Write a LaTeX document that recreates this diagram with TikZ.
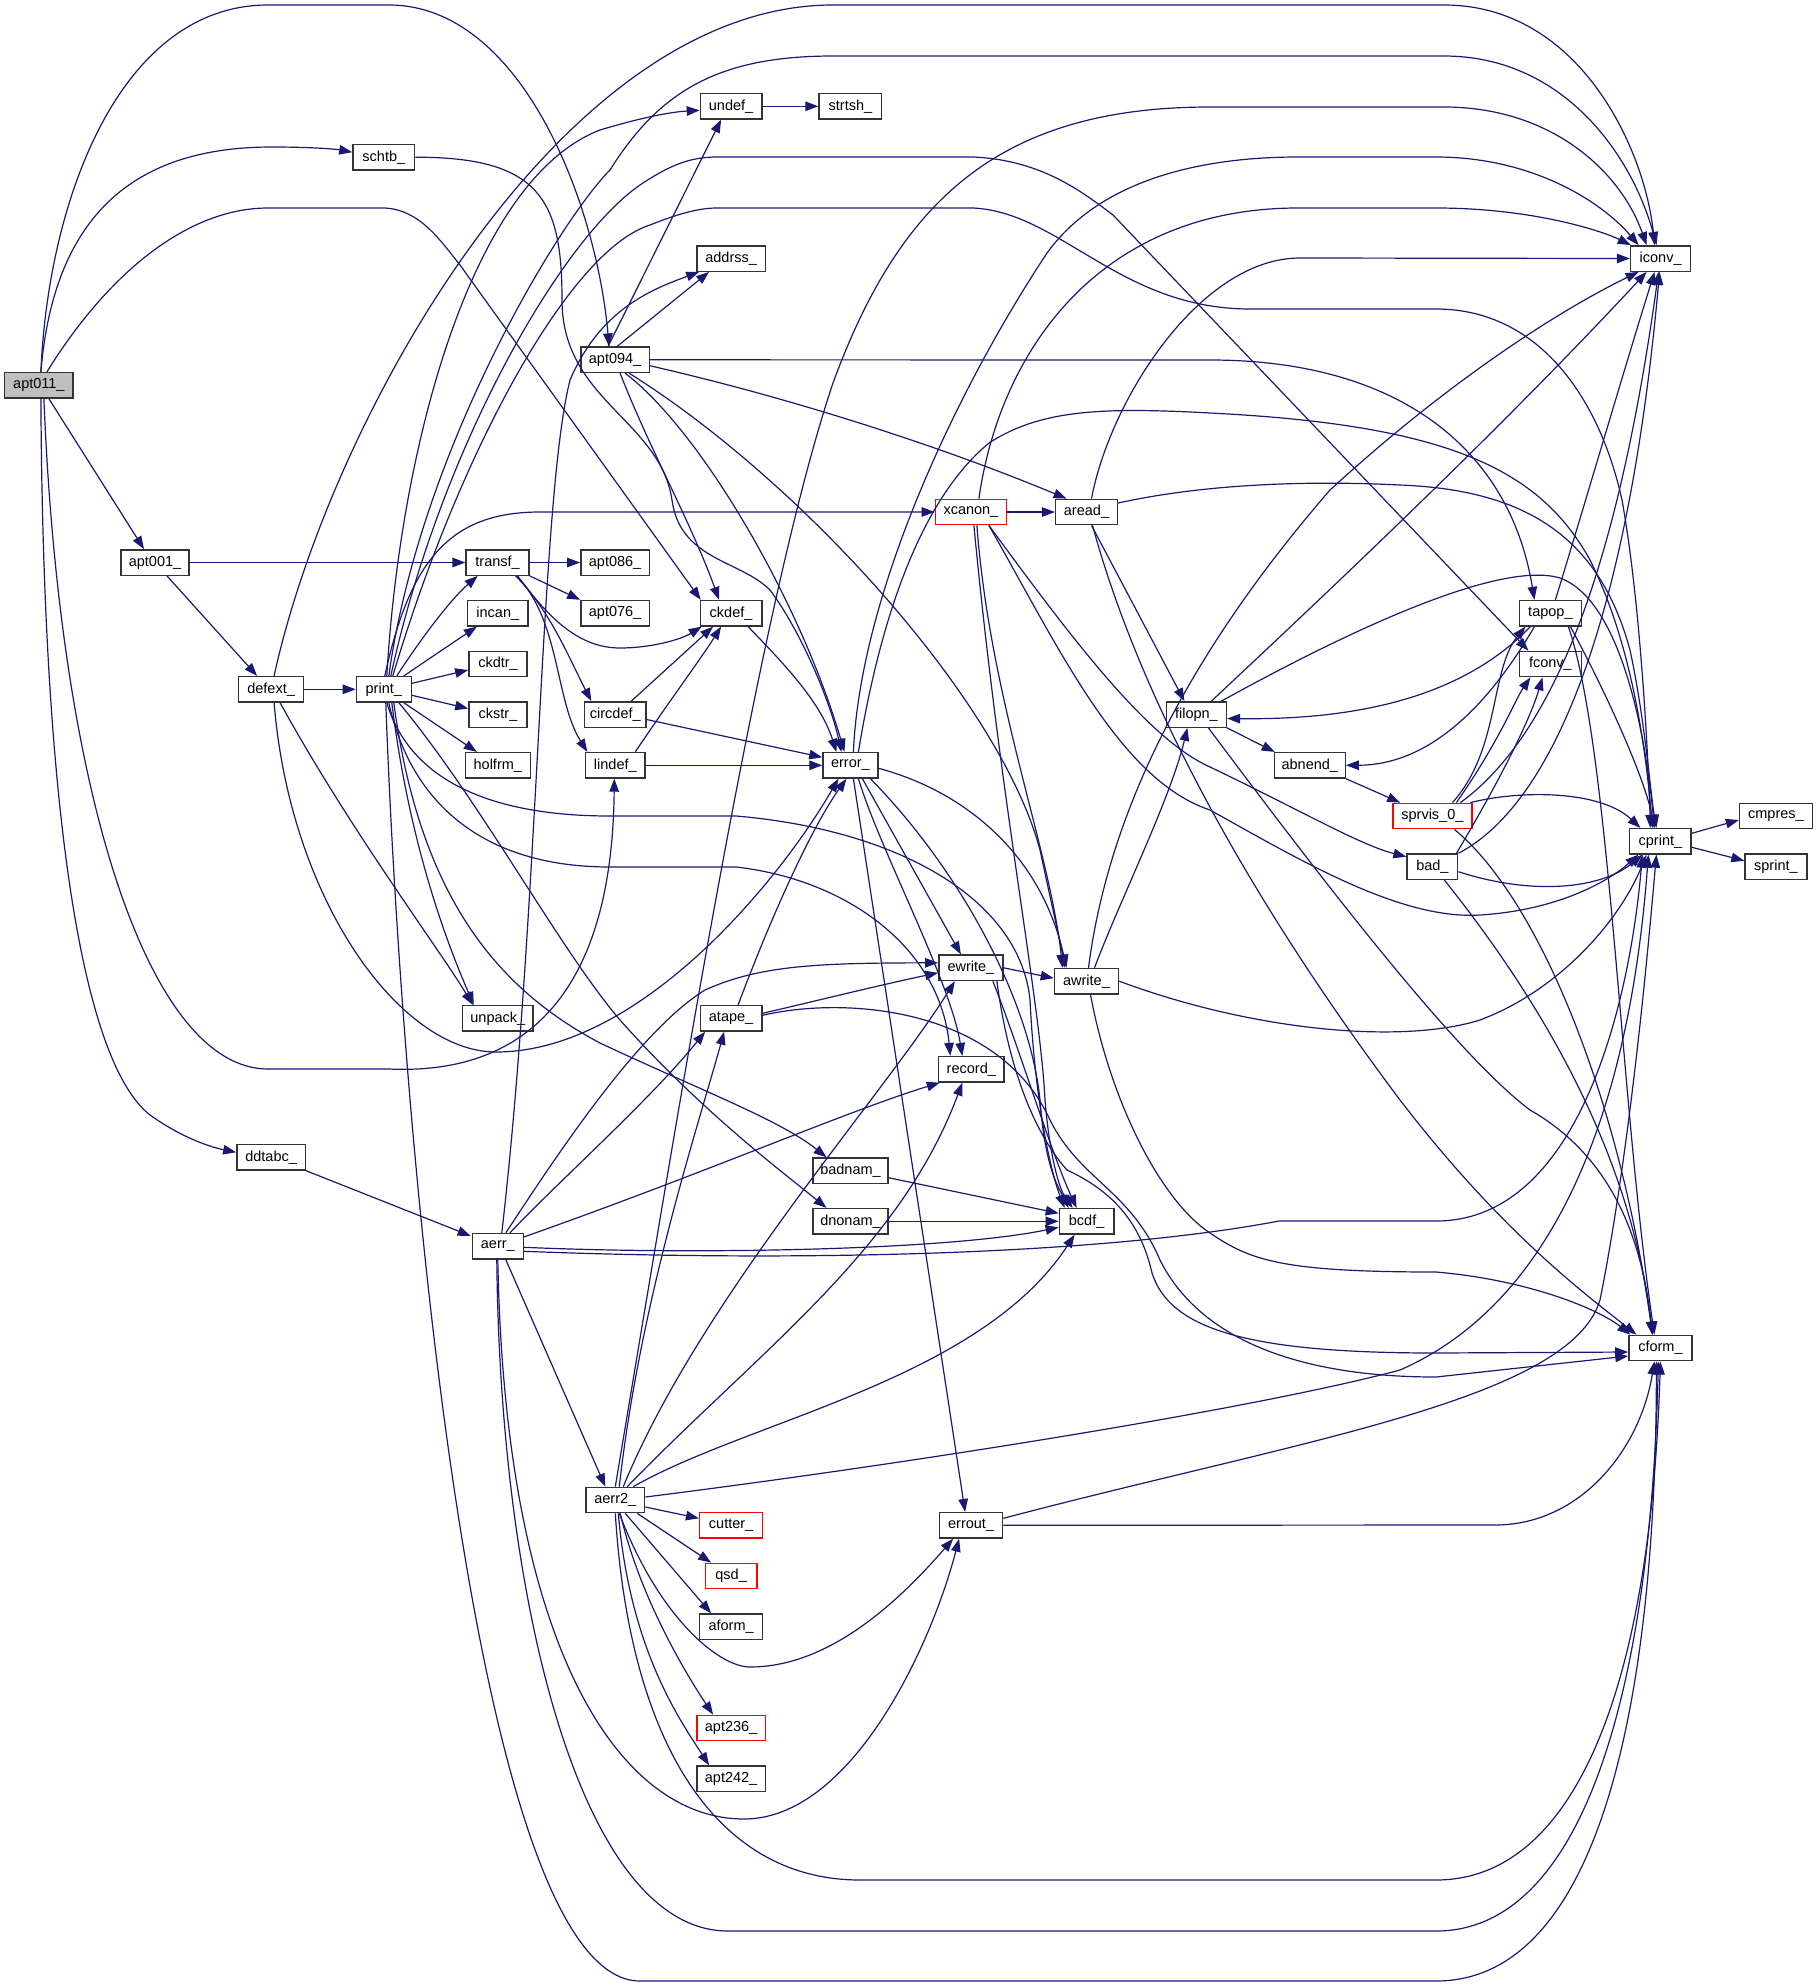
\documentclass[tikz,border=0pt]{standalone}
\usepackage{fontspec}
\setmainfont{Liberation Sans}
\usetikzlibrary{arrows.meta}
\definecolor{edgec}{RGB}{25,25,112}
\definecolor{grayfill}{RGB}{191,191,191}
\begin{document}
\begin{tikzpicture}[x=1pt,y=-1pt]
\tikzset{
 nd/.style={draw=black!80, line width=1.4pt, fill=white, minimum height=25.4pt, inner sep=0pt, font=\fontsize{14.5}{16}\selectfont, anchor=center},
 rd/.style={nd, draw=red},
 gd/.style={nd, fill=grayfill},
 ed/.style={draw=edgec, line width=1.2pt, -{Triangle[length=13pt,width=9.5pt]}}
}
\useasboundingbox (0,0) rectangle (1817,1987);
% nodes
\node[gd, minimum width=68.4pt] (apt011) at (38.9,385.3) {apt011\_};
\node[nd, minimum width=61.8pt] (schtb) at (383.8,157.2) {schtb\_};
\node[nd, minimum width=68.6pt] (apt094) at (615.1,359.8) {apt094\_};
\node[nd, minimum width=61.4pt] (undef) at (731.1,106.3) {undef\_};
\node[nd, minimum width=62.7pt] (strtsh) at (850.4,106.3) {strtsh\_};
\node[nd, minimum width=68.4pt] (addrss) at (731.1,258.5) {addrss\_};
\node[nd, minimum width=60.2pt] (iconv) at (1660.6,258.5) {iconv\_};
\node[nd, minimum width=68pt] (apt001) at (155,562.5) {apt001\_};
\node[nd, minimum width=63pt] (transf) at (497.6,562.5) {transf\_};
\node[nd, minimum width=60.3pt] (incan) at (497.8,613.2) {incan\_};
\node[nd, minimum width=58.3pt] (ckdtr) at (498,664) {ckdtr\_};
\node[nd, minimum width=58.3pt] (ckstr) at (498,714.5) {ckstr\_};
\node[nd, minimum width=65pt] (holfrm) at (497.8,765.3) {holfrm\_};
\node[nd, minimum width=65.3pt] (defext) at (271.1,689.3) {defext\_};
\node[nd, minimum width=54.8pt] (print) at (383.8,689.3) {print\_};
\node[nd, minimum width=68.6pt] (apt086) at (615.1,562.5) {apt086\_};
\node[nd, minimum width=68.6pt] (apt076) at (615.1,613.2) {apt076\_};
\node[nd, minimum width=61.4pt] (ckdef) at (731.1,613.2) {ckdef\_};
\node[nd, minimum width=61.2pt] (circdef) at (615.3,714.5) {circdef\_};
\node[nd, minimum width=59.6pt] (lindef) at (615.3,765.3) {lindef\_};
\node[nd, minimum width=54.9pt] (error) at (850.4,765.3) {error\_};
\node[rd, minimum width=71.2pt] (xcanon) at (970.9,512) {xcanon\_};
\node[nd, minimum width=61.8pt] (aread) at (1086.5,512) {aread\_};
\node[nd, minimum width=60pt] (filopn) at (1196.4,714.5) {filopn\_};
\node[nd, minimum width=64.2pt] (ewrite) at (970.9,967.8) {ewrite\_};
\node[nd, minimum width=64.2pt] (awrite) at (1086.5,981.2) {awrite\_};
\node[nd, minimum width=61.8pt] (tapop) at (1550.4,613.2) {tapop\_};
\node[nd, minimum width=61.8pt] (fconv) at (1550.4,664) {fconv\_};
\node[nd, minimum width=70.8pt] (abnend) at (1309.8,765.3) {abnend\_};
\node[rd, minimum width=79.1pt] (sprvis) at (1432.4,816) {sprvis\_0\_};
\node[nd, minimum width=50.7pt] (bad) at (1432.4,866.7) {bad\_};
\node[nd, minimum width=61.4pt] (cprint) at (1660.4,841.3) {cprint\_};
\node[nd, minimum width=72.8pt] (cmpres) at (1775.9,816) {cmpres\_};
\node[nd, minimum width=61.8pt] (sprint) at (1775.9,866.7) {sprint\_};
\node[nd, minimum width=70.4pt] (unpack) at (497.8,1018.3) {unpack\_};
\node[nd, minimum width=68.5pt] (ddtabc) at (271.1,1157.3) {ddtabc\_};
\node[nd, minimum width=50.9pt] (aerr) at (497.8,1246.3) {aerr\_};
\node[nd, minimum width=61.4pt] (atape) at (731.1,1018.3) {atape\_};
\node[nd, minimum width=65.7pt] (record) at (971.3,1069.3) {record\_};
\node[nd, minimum width=74.7pt] (badnam) at (850.5,1170.7) {badnam\_};
\node[nd, minimum width=74.7pt] (dnonam) at (850.5,1221.3) {dnonam\_};
\node[nd, minimum width=54.5pt] (bcdf) at (1086.6,1221.3) {bcdf\_};
\node[nd, minimum width=58.8pt] (aerr2) at (615.3,1500) {aerr2\_};
\node[nd, minimum width=63pt] (cform) at (1660.4,1348) {cform\_};
\node[rd, minimum width=63pt] (cutter) at (731.1,1525.3) {cutter\_};
\node[rd, minimum width=51.4pt] (qsd) at (731.1,1576) {qsd\_};
\node[nd, minimum width=63pt] (aform) at (731.1,1626.7) {aform\_};
\node[rd, minimum width=68.4pt] (apt236) at (731.1,1728) {apt236\_};
\node[nd, minimum width=68.4pt] (apt242) at (731.1,1778.7) {apt242\_};
\node[nd, minimum width=63pt] (errout) at (971.1,1525.3) {errout\_};
% apt011
\draw[ed] ([xshift=2]apt011.north) .. controls (48,200) and (120,5) .. (268,5) -- (389,5) .. controls (520,5) and (596,200) .. ([xshift=-6]apt094.north);
\draw[ed] ([xshift=2]apt011.north) .. controls (55,200) and (150,147) .. (272,147) .. controls (310,147) and (335,149) .. ([yshift=5]schtb.west);
\draw[ed] ([xshift=8]apt011.north) .. controls (110,270) and (190,208) .. (268,208) -- (385,208) .. controls (420,210) and (440,240) .. (460,265) -- ([xshift=1]ckdef.north west);
\draw[ed] ([xshift=10]apt011.south) -- ([xshift=-11]apt001.north);
\draw[ed] ([xshift=2]apt011.south) .. controls (43,800) and (80,1060) .. (150,1115) .. controls (185,1140) and (215,1148) .. ([yshift=5]ddtabc.west);
\draw[ed] ([xshift=5]apt011.south) .. controls (60,800) and (150,1069) .. (268,1069) -- (389,1069) .. controls (520,1075) and (612,1000) .. ([xshift=-1]lindef.south);
% schtb
\draw[ed] (schtb.east) .. controls (540,157) and (562,200) .. (562,300) .. controls (562,400) and (660,420) .. (672,500) .. controls (680,560) and (740,560) .. (770,590) .. controls (800,630) and (830,700) .. ([xshift=-9]error.north);
% apt001
\draw[ed] (apt001.east) -- (transf.west);
\draw[ed] ([xshift=12]apt001.south) -- ([xshift=-14]defext.north);
% defext
\draw[ed] (defext.east) -- (print.west);
\draw[ed] ([xshift=3]defext.north) .. controls (330,420) and (560,5) .. (833,5) -- (1444,5) .. controls (1580,5) and (1645,150) .. ([xshift=-6]iconv.north);
\draw[ed] ([xshift=9]defext.south) .. controls (350,830) and (440,950) .. ([xshift=-25]unpack.north);
\draw[ed] ([xshift=3]defext.south) .. controls (290,900) and (400,1052) .. (496,1052) .. controls (640,1052) and (780,880) .. ([xshift=-12]error.south);
% print
\draw[ed] ([xshift=13]print.north) .. controls (420,640) and (450,600) .. ([xshift=-20]transf.south);
\draw[ed] ([xshift=20]print.north) -- ([xshift=-21]incan.south);
\draw[ed] ([yshift=6]print.east) -- ([yshift=-6]ckdtr.west);
\draw[ed] ([yshift=-6]print.east) -- ([yshift=6]ckstr.west);
\draw[ed] ([xshift=20]print.south) -- ([xshift=-21]holfrm.north);
\draw[ed] ([xshift=8]print.south) .. controls (410,850) and (450,950) .. ([xshift=-24]unpack.north);
\draw[ed] ([xshift=1]print.north) .. controls (410,560) and (450,512) .. (540,512) -- (xcanon.west);
\draw[ed] ([xshift=3]print.north) .. controls (400,450) and (470,180) .. (600,130) .. controls (640,118) and (670,112) .. ([yshift=-4]undef.west);
\draw[ed] ([xshift=5]print.north) .. controls (420,450) and (560,220) .. (610,170) .. controls (660,90) and (720,56) .. (833,56) -- (1444,56) .. controls (1560,56) and (1630,150) .. ([xshift=-4]iconv.north);
\draw[ed] ([xshift=7]print.north) .. controls (440,450) and (560,240) .. (640,185) .. controls (670,165) and (690,157) .. (717,157) -- (973,157) .. controls (1040,160) and (1080,190) .. (1113,215) -- ([xshift=-22]fconv.north);
\draw[ed] ([xshift=9]print.north) .. controls (460,450) and (570,250) .. (650,225) .. controls (680,213) and (700,208) .. (717,208) -- (973,208) .. controls (1060,212) and (1120,309) .. (1250,309) -- (1436,309) .. controls (1540,309) and (1600,400) .. (1622,500) .. controls (1640,600) and (1648,750) .. ([xshift=-10]cprint.north);
\draw[ed] ([xshift=5]print.south) .. controls (410,800) and (480,867) .. (610,867) -- (736,867) .. controls (850,880) and (940,950) .. ([xshift=-21]record.north);
\draw[ed] ([xshift=3]print.south) .. controls (410,780) and (490,816) .. (610,816) -- (736,816) .. controls (900,830) and (1020,900) .. (1030,1000) .. controls (1035,1100) and (1050,1170) .. ([xshift=-22]bcdf.north);
\draw[ed] ([xshift=10]print.south) .. controls (420,900) and (500,990) .. (600,1043) .. controls (700,1090) and (780,1120) .. ([xshift=-24]badnam.north);
\draw[ed] ([xshift=15]print.south) .. controls (480,800) and (560,950) .. (620,1020) .. controls (700,1110) and (780,1170) .. ([xshift=-24]dnonam.north);
\draw[ed] ([xshift=2]print.south) .. controls (400,1100) and (470,1981) .. (640,1981) -- (1436,1981) .. controls (1600,1981) and (1656,1700) .. ([xshift=-4]cform.south);
% apt094
\draw[ed] ([xshift=-7]apt094.north) -- ([xshift=-10]undef.south);
\draw[ed] ([xshift=2]apt094.north) -- ([xshift=-22]addrss.south);
\draw[ed] ([xshift=5]apt094.south) .. controls (650,450) and (690,520) .. ([xshift=-12]ckdef.north);
\draw[ed] ([xshift=10]apt094.south) .. controls (700,430) and (800,600) .. ([xshift=-6]error.north);
\draw[ed] ([xshift=14]apt094.south) .. controls (800,480) and (1000,700) .. (1040,850) .. controls (1055,920) and (1062,950) .. ([xshift=-22]awrite.north);
\draw[ed] ([yshift=-6]apt094.east) .. controls (800,400) and (950,450) .. ([xshift=-20]aread.north);
\draw[ed] (apt094.east) -- (1210,360) .. controls (1400,360) and (1510,450) .. ([xshift=-16]tapop.north);
\draw[ed] (undef.east) -- (strtsh.west);
% transf
\draw[ed] (transf.east) -- (apt086.west);
\draw[ed] (transf.south east) -- (apt076.north west);
\draw[ed] ([xshift=20]transf.south) .. controls (550,620) and (580,648) .. (620,648) .. controls (650,648) and (680,640) .. ([xshift=2]ckdef.south west);
\draw[ed] ([xshift=18]transf.south) .. controls (550,610) and (570,660) .. ([xshift=-24]circdef.north);
\draw[ed] ([xshift=19]transf.south) .. controls (560,620) and (555,700) .. ([xshift=-28]lindef.north);
% circdef lindef ckdef
\draw[ed] ([xshift=16]circdef.north) -- ([xshift=-18]ckdef.south);
\draw[ed] ([yshift=-5]circdef.east) -- ([yshift=8]error.west);
\draw[ed] ([xshift=20]lindef.north) .. controls (670,700) and (700,660) .. ([xshift=-10]ckdef.south);
\draw[ed] (lindef.east) -- (error.west);
\draw[ed] ([xshift=17]ckdef.south) .. controls (780,660) and (820,700) .. ([xshift=-14]error.north);
% error
\draw[ed] ([xshift=3]error.north) .. controls (860,600) and (950,400) .. (1047,253) .. controls (1100,180) and (1200,157) .. (1298,157) -- (1436,157) .. controls (1530,157) and (1600,200) .. ([xshift=-22]iconv.north);
\draw[ed] ([xshift=8]error.north) .. controls (880,620) and (920,500) .. (989,443) .. controls (1040,410) and (1100,407) .. (1210,413) .. controls (1450,425) and (1540,470) .. (1590,560) .. controls (1630,640) and (1645,740) .. ([xshift=-8]cprint.north);
\draw[ed] ([xshift=12]error.south) -- ([xshift=-10]ewrite.north);
\draw[ed] ([xshift=8]error.south) .. controls (880,850) and (950,980) .. ([xshift=-9]record.north);
\draw[ed] ([xshift=3]error.south) -- ([xshift=-6]errout.north);
\draw[ed] ([yshift=-3]error.east) .. controls (960,790) and (1040,850) .. ([xshift=-20]awrite.north);
\draw[ed] ([xshift=20]error.south) .. controls (960,870) and (1030,1000) .. (1040,1100) .. controls (1045,1170) and (1060,1190) .. ([xshift=-18]bcdf.north);
% xcanon
\draw[ed] (xcanon.east) -- (aread.west);
\draw[ed] ([xshift=8]xcanon.north) .. controls (1000,350) and (1100,208) .. (1298,208) -- (1436,208) .. controls (1530,208) and (1600,230) .. ([xshift=1]iconv.north west);
\draw[ed] ([xshift=6]xcanon.south) .. controls (990,700) and (1050,850) .. ([xshift=-24]awrite.north);
\draw[ed] ([xshift=3]xcanon.south) .. controls (1000,800) and (1040,1000) .. (1045,1100) .. controls (1050,1160) and (1060,1190) .. ([xshift=-14]bcdf.north);
\draw[ed] ([xshift=18]xcanon.south) .. controls (1080,650) and (1150,740) .. (1210,767) .. controls (1300,810) and (1360,845) .. ([yshift=10]bad.west);
\draw[ed] ([xshift=18]xcanon.south) .. controls (1060,650) and (1120,780) .. (1210,810) .. controls (1300,860) and (1400,920) .. (1480,915) .. controls (1560,910) and (1610,880) .. ([xshift=-22]cprint.south);
% aread
\draw[ed] ([xshift=5]aread.north) .. controls (1110,400) and (1200,258) .. (1300,258) -- (iconv.west);
\draw[ed] ([yshift=9]aread.east) .. controls (1200,485) and (1300,480) .. (1400,485) .. controls (1530,490) and (1600,540) .. (1630,650) .. controls (1645,720) and (1650,790) .. ([xshift=-4]cprint.north);
\draw[ed] ([xshift=5]aread.south) -- ([xshift=-12]filopn.north);
\draw[ed] ([xshift=6]aread.south) .. controls (1140,700) and (1250,900) .. (1400,1100) .. controls (1500,1230) and (1580,1290) .. ([xshift=-24]cform.north);
% filopn
\draw[ed] ([xshift=15]filopn.north) .. controls (1330,590) and (1500,430) .. ([xshift=-14]iconv.south);
\draw[ed] ([xshift=25]filopn.north) .. controls (1350,630) and (1500,560) .. (1560,578) .. controls (1620,600) and (1645,730) .. ([xshift=-6]cprint.north);
\draw[ed] (filopn.south east) -- ([xshift=1]abnend.north west);
\draw[ed] ([xshift=12]filopn.south) .. controls (1300,850) and (1450,1050) .. (1530,1110) .. controls (1600,1150) and (1640,1220) .. ([xshift=-8]cform.north);
% tapop
\draw[ed] ([xshift=5]tapop.north) .. controls (1580,520) and (1630,350) .. ([xshift=-6]iconv.south);
\draw[ed] ([xshift=-20]tapop.south) .. controls (1460,700) and (1350,720) .. ([yshift=-4]filopn.east);
\draw[ed] ([xshift=-16]tapop.south) .. controls (1480,720) and (1420,765) .. (abnend.east);
\draw[ed] ([xshift=20]tapop.south) .. controls (1610,700) and (1645,780) .. ([xshift=-6]cprint.north);
\draw[ed] ([xshift=18]tapop.south) .. controls (1610,750) and (1620,1100) .. ([xshift=-6]cform.north);
% sprvis
\draw[ed] ([xshift=20]sprvis.north) .. controls (1500,750) and (1490,670) .. ([xshift=-25]tapop.south);
\draw[ed] ([xshift=24]sprvis.north) .. controls (1500,740) and (1515,700) .. ([xshift=-20]fconv.south);
\draw[ed] ([xshift=28]sprvis.north) .. controls (1560,730) and (1620,550) .. ([xshift=-2]iconv.south);
\draw[ed] ([xshift=38]sprvis.north) .. controls (1520,790) and (1600,790) .. ([xshift=-20]cprint.north);
\draw[ed] ([xshift=22]sprvis.south) .. controls (1540,900) and (1620,1100) .. ([xshift=-8]cform.north);
% bad
\draw[ed] ([xshift=24]bad.north) .. controls (1500,780) and (1530,720) .. ([xshift=-8]fconv.south);
\draw[ed] (bad.north east) .. controls (1560,800) and (1630,600) .. ([xshift=-1]iconv.south);
\draw[ed] ([yshift=-5]bad.east) .. controls (1530,895) and (1600,890) .. ([xshift=-18]cprint.south);
\draw[ed] ([xshift=12]bad.south) .. controls (1540,1000) and (1630,1150) .. ([xshift=-8]cform.north);
% abnend cprint
\draw[ed] (abnend.south east) -- ([xshift=8]sprvis.north west);
\draw[ed] ([yshift=8]cprint.east) -- ([yshift=-4]cmpres.west);
\draw[ed] ([yshift=-6]cprint.east) -- ([yshift=6]sprint.west);
% awrite
\draw[ed] ([xshift=2]awrite.north) .. controls (1110,800) and (1200,640) .. (1330,490) .. controls (1450,380) and (1560,310) .. ([xshift=-22]iconv.south);
\draw[ed] ([xshift=8]awrite.north) .. controls (1120,900) and (1170,800) .. ([xshift=-9]filopn.south);
\draw[ed] (awrite.east) .. controls (1250,1030) and (1400,1045) .. (1480,1020) .. controls (1560,990) and (1620,920) .. ([xshift=-14]cprint.south);
\draw[ed] ([xshift=4]awrite.south) .. controls (1110,1100) and (1160,1200) .. (1210,1233) .. controls (1250,1260) and (1280,1272) .. (1436,1272) .. controls (1530,1280) and (1600,1310) .. ([xshift=2]cform.north west);
% ewrite
\draw[ed] (ewrite.east) -- ([yshift=3]awrite.west);
\draw[ed] ([xshift=22]ewrite.south) .. controls (1020,1050) and (1050,1150) .. ([xshift=-10]bcdf.north);
\draw[ed] ([xshift=26]ewrite.south) .. controls (1010,1080) and (1040,1140) .. (1067,1170) .. controls (1110,1190) and (1140,1220) .. (1152,1273) .. controls (1170,1330) and (1250,1353) .. (1436,1353) -- ([yshift=-4]cform.west);
% atape
\draw[ed] ([xshift=7]atape.north) .. controls (770,920) and (810,830) .. ([xshift=-4]error.south);
\draw[ed] ([yshift=5]atape.east) .. controls (820,1000) and (880,985) .. ([yshift=-5]ewrite.west);
\draw[ed] ([yshift=3]atape.east) .. controls (850,995) and (1000,1010) .. (1050,1120) .. controls (1080,1180) and (1130,1190) .. (1160,1260) .. controls (1200,1340) and (1300,1377) .. (1436,1377) -- ([yshift=-8]cform.west);
% badnam dnonam ddtabc
\draw[ed] ([yshift=-7]badnam.east) -- ([yshift=8]bcdf.west);
\draw[ed] (dnonam.east) -- (bcdf.west);
\draw[ed] (ddtabc.south east) -- ([xshift=-1,yshift=-3]aerr.north west);
% aerr
\draw[ed] ([xshift=4]aerr.north) .. controls (540,900) and (540,500) .. (570,380) .. controls (600,310) and (650,290) .. ([xshift=3]addrss.south west);
\draw[ed] ([xshift=8]aerr.north) .. controls (560,1150) and (640,1030) .. (705,990) .. controls (760,965) and (820,963) .. ([yshift=5]ewrite.west);
\draw[ed] ([xshift=12]aerr.north) .. controls (560,1180) and (650,1100) .. ([xshift=-26]atape.south);
\draw[ed] ([yshift=-4]aerr.north east) .. controls (700,1175) and (850,1110) .. ([xshift=2]record.south west);
\draw[ed] ([yshift=-1]aerr.east) .. controls (700,1255) and (950,1250) .. ([yshift=-6]bcdf.west);
\draw[ed] ([yshift=-5]aerr.east) .. controls (800,1262) and (1100,1255) .. (1279,1221) -- (1436,1221) .. controls (1580,1221) and (1630,1000) .. ([xshift=-18]cprint.south);
\draw[ed] ([xshift=8]aerr.south) -- ([xshift=-10]aerr2.north);
\draw[ed] (aerr.south) .. controls (505,1650) and (620,1819) .. (744,1819) .. controls (850,1819) and (930,1650) .. ([xshift=-12]errout.south);
\draw[ed] ([xshift=-1]aerr.south) .. controls (500,1600) and (580,1931) .. (728,1931) -- (1436,1931) .. controls (1580,1931) and (1650,1700) .. ([xshift=-2]cform.south);
% aerr2
\draw[ed] (aerr2.north) .. controls (680,1100) and (760,600) .. (833,383) .. controls (900,200) and (1000,107) .. (1210,107) -- (1444,107) .. controls (1550,107) and (1620,170) .. ([xshift=-14]iconv.north);
\draw[ed] ([xshift=4]aerr2.north) .. controls (640,1300) and (700,1120) .. ([xshift=-7]atape.south);
\draw[ed] ([xshift=8]aerr2.north) .. controls (700,1300) and (880,1100) .. ([xshift=-16]ewrite.south);
\draw[ed] ([xshift=12]aerr2.north) .. controls (760,1350) and (900,1250) .. ([xshift=-9]record.south);
\draw[ed] ([xshift=18]aerr2.north) .. controls (750,1420) and (980,1380) .. ([xshift=-12]bcdf.south);
\draw[ed] ([yshift=3]aerr2.east) .. controls (900,1465) and (1250,1410) .. (1400,1370) .. controls (1560,1300) and (1630,1100) .. ([xshift=-12]cprint.south);
\draw[ed] ([yshift=-7]aerr2.east) -- ([yshift=7]cutter.west);
\draw[ed] ([xshift=22]aerr2.south) -- ([xshift=-20]qsd.north);
\draw[ed] ([xshift=10]aerr2.south) -- ([xshift=-20]aform.north);
\draw[ed] ([xshift=5]aerr2.south) .. controls (640,1600) and (690,1680) .. ([xshift=-18]apt236.north);
\draw[ed] ([xshift=3]aerr2.south) .. controls (630,1650) and (680,1720) .. ([xshift=-22]apt242.north);
\draw[ed] ([xshift=4]aerr2.south) .. controls (660,1620) and (720,1667) .. (750,1667) .. controls (830,1667) and (900,1600) .. ([xshift=-18]errout.south);
\draw[ed] (aerr2.south) .. controls (630,1750) and (720,1880) .. (860,1880) -- (1436,1880) .. controls (1570,1880) and (1650,1700) .. (cform.south);
% errout
\draw[ed] (errout.east) -- (1495,1525) .. controls (1580,1525) and (1640,1450) .. ([xshift=-6]cform.south);
\draw[ed] ([yshift=7]errout.east) .. controls (1300,1440) and (1570,1400) .. (1600,1300) .. controls (1630,1150) and (1648,950) .. ([xshift=-4]cprint.south);
\end{tikzpicture}
\end{document}
